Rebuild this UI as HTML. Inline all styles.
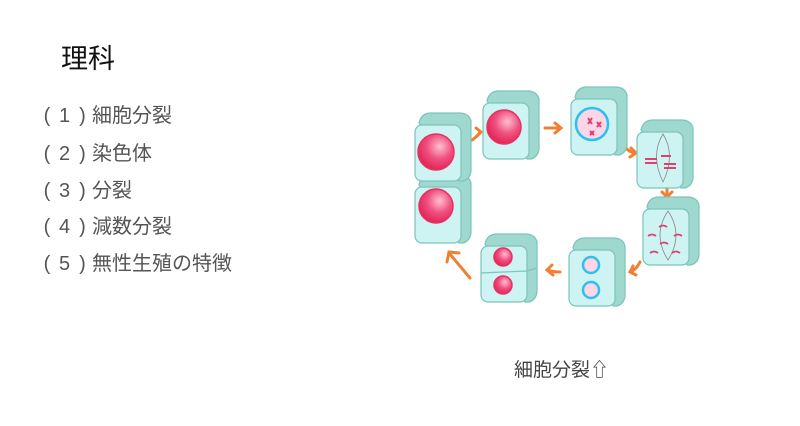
<!DOCTYPE html>
<html><head><meta charset="utf-8"><style>
body{margin:0;width:800px;height:426px;background:#fff;position:relative;overflow:hidden;font-family:"Liberation Sans","Noto Sans CJK JP",sans-serif}
.t{position:absolute;left:61px;top:37px;font-size:27px;color:#111}
.l{position:absolute;left:38px;font-size:20px;color:#555;white-space:nowrap}
.l b{font-weight:normal;display:inline-block;text-align:center}
.p1{width:18px}.p2{width:17px}.p3{width:19px}
.c{position:absolute;left:514px;top:355px;font-size:19px;color:#444}
</style></head><body>
<div class="t">理科</div>
<div class="l" style="top:99px"><b class="p1">(</b><b class="p2">1</b><b class="p3">)</b>細胞分裂</div>
<div class="l" style="top:137px"><b class="p1">(</b><b class="p2">2</b><b class="p3">)</b>染色体</div>
<div class="l" style="top:174px"><b class="p1">(</b><b class="p2">3</b><b class="p3">)</b>分裂</div>
<div class="l" style="top:210px"><b class="p1">(</b><b class="p2">4</b><b class="p3">)</b>減数分裂</div>
<div class="l" style="top:247px"><b class="p1">(</b><b class="p2">5</b><b class="p3">)</b>無性生殖の特徴</div>
<div class="c">細胞分裂⇧</div>
<svg width="800" height="426" style="position:absolute;left:0;top:0">
<defs>
<radialGradient id="n" cx="0.6" cy="0.35" r="0.7"><stop offset="0" stop-color="#ffc0d0"/><stop offset="0.5" stop-color="#f05080"/><stop offset="1" stop-color="#e02050"/></radialGradient>
<g id="cell">
<path d="M4 10 Q6 0 16 0 L44 0 Q54 0 56 8 L56 58 Q55 66 48 68 L44 68 Z" fill="#9ed8cf" stroke="#7cc4ba" stroke-width="1.2"/>
<rect x="0" y="12" width="46" height="56" rx="7" fill="#cdf3f3" stroke="#7cc4ba" stroke-width="1.2"/>
</g>
</defs>
<g stroke="#f08030" stroke-width="3" fill="none" stroke-linecap="round">
<path d="M472 140 Q478 136 480 132"/><path d="M476 128 L481 132 L476 137"/>
<path d="M545 128 L560 128"/><path d="M555 123 L561 128 L555 133"/>
<path d="M625 147 Q630 153 636 153"/><path d="M631 148 L636 153 L630 157"/>
<path d="M667 188 L667 196"/><path d="M662 192 L667 197 L672 192"/>
<path d="M640 262 Q636 270 630 272"/><path d="M633 266 L630 272 L636 275"/>
<path d="M560 272 Q553 272 548 270"/><path d="M552 265 L547 270 L553 275"/>
<path d="M470 278 Q458 264 450 254"/><path d="M447 262 L449 252 L459 253"/>
</g>
<use href="#cell" transform="translate(415,175)"/>
<circle cx="436" cy="206" r="17" fill="url(#n)" stroke="#e83060" stroke-width="1.5"/>
<use href="#cell" transform="translate(415,113)"/>
<circle cx="436" cy="152" r="18" fill="url(#n)" stroke="#e83060" stroke-width="1.5"/>
<use href="#cell" transform="translate(483,91)"/>
<circle cx="504" cy="127" r="17" fill="url(#n)" stroke="#e83060" stroke-width="1.5"/>
<use href="#cell" transform="translate(571,87)"/>
<circle cx="592" cy="124" r="16" fill="#fbd6e6" stroke="#30c0f0" stroke-width="2.5"/>
<g stroke="#e04070" stroke-width="2"><path d="M588 118 l4 6 M592 118 l-4 6 M597 122 l4 5 M601 122 l-4 5 M590 131 l4 4 M594 131 l-4 4"/></g>
<use href="#cell" transform="translate(637,120)"/>
<path d="M663 134 Q650 155 663 182 Q676 155 663 134Z" fill="none" stroke="#888" stroke-width="0.8"/>
<g stroke="#e04070" stroke-width="2"><path d="M645 159 h12 M645 163 h12 M661 156 h10 M664 164 h12 M664 168 h12"/></g>
<use href="#cell" transform="translate(643,197)"/>
<path d="M668 211 Q652 235 668 260 Q684 235 668 211Z" fill="none" stroke="#888" stroke-width="0.8"/>
<g stroke="#e04070" stroke-width="1.8" fill="none"><path d="M659 227 q4 -3 8 0 M648 236 q4 -3 8 0 M674 236 q4 -3 8 0 M660 244 q4 -3 8 0 M650 253 q4 -3 8 0 M672 253 q4 -3 8 0"/></g>
<use href="#cell" transform="translate(569,238)"/>
<circle cx="591" cy="265" r="8" fill="#fbd6e6" stroke="#30c0f0" stroke-width="2.5"/>
<circle cx="591" cy="290" r="8" fill="#fbd6e6" stroke="#30c0f0" stroke-width="2.5"/>
<use href="#cell" transform="translate(481,234)"/>
<path d="M481 273 L527 271 L537 268" stroke="#7cc4ba" stroke-width="1.2" fill="none"/>
<circle cx="503" cy="257" r="9" fill="url(#n)" stroke="#e83060" stroke-width="1.5"/>
<circle cx="503" cy="285" r="9" fill="url(#n)" stroke="#e83060" stroke-width="1.5"/>
</svg>
</body></html>
